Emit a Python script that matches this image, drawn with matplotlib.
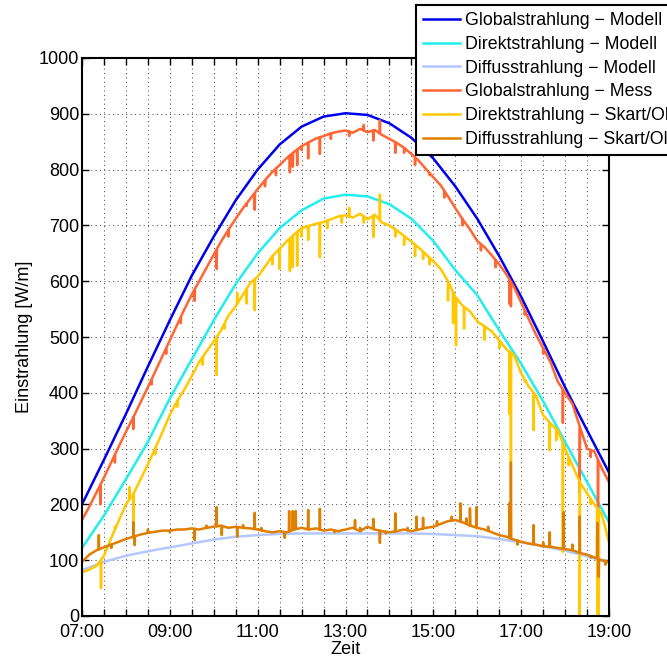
import numpy as np
import matplotlib
matplotlib.use("Agg")
import matplotlib.pyplot as plt
from matplotlib.ticker import MultipleLocator, FuncFormatter

plt.rcParams['font.family'] = ['Liberation Sans', 'DejaVu Sans']

# ---------------- data ----------------
# model curves, every 30 min from 07:00 to 19:00
model_start, model_step = 7.0, 0.5
global_model = [200, 280, 362, 447, 530, 610, 680, 745, 800, 845, 877, 895, 901,
                898, 883, 857, 820, 770, 712, 645, 572, 492, 410, 333, 257]
direct_model = [122, 180, 245, 312, 390, 460, 530, 595, 650, 695, 727, 748, 755,
                752, 738, 712, 672, 620, 575, 512, 452, 385, 312, 240, 168]
diffuse_model = [82, 97, 108, 116, 123, 130, 137, 142, 145, 147, 148, 148, 148,
                 148, 148, 148, 147, 145, 143, 138, 132, 125, 117, 107, 95]

# measured / Skartveit-Olseth curves, every 10 min from 07:00 to 19:00
meas_start, meas_step = 7.0, 1.0 / 6.0
global_meas = [172, 196, 222, 248, 276, 303, 330, 356, 383, 410, 438, 466,
               494, 522, 550, 576, 600, 624, 648, 671, 692, 712, 731, 748,
               765, 781, 796, 808, 821, 832, 842, 849, 856, 860, 865, 868,
               870, 866, 873, 867, 871, 862, 855, 848, 839, 828, 816, 801,
               786, 772, 752, 731, 711, 693, 672, 661, 646, 630, 612, 590,
               562, 533, 505, 480, 455, 420, 400, 380, 340, 300, 295, 265, 240]
direct_meas = [78, 83, 90, 108, 140, 170, 200, 218, 245, 272, 300, 330,
               360, 385, 406, 430, 455, 474, 492, 512, 538, 555, 576, 597,
               608, 626, 645, 658, 672, 684, 695, 699, 703, 706, 711, 716,
               718, 714, 721, 711, 719, 705, 700, 691, 681, 671, 660, 648,
               636, 622, 600, 572, 556, 546, 528, 519, 510, 494, 478, 468,
               435, 412, 395, 360, 345, 333, 300, 270, 240, 220, 200, 183, 132]
diffuse_meas = [97, 110, 118, 123, 128, 133, 138, 142, 146, 149, 151, 153,
                153, 155, 155, 157, 155, 158, 160, 162, 158, 160, 158, 157,
                155, 152, 150, 152, 150, 155, 158, 155, 157, 153, 155, 152,
                155, 158, 152, 160, 155, 152, 150, 152, 155, 152, 155, 158,
                160, 165, 170, 172, 168, 162, 158, 155, 150, 145, 142, 137,
                133, 130, 128, 125, 124, 122, 120, 118, 113, 110, 105, 100, 97]

# short spikes in the measured curves: (time, value)
global_spikes = [("07:25", 200), ("07:45", 275), ("08:10", 335), ("08:35", 415),
                 ("08:55", 470), ("09:15", 525), ("09:34", 565), ("10:04", 622),
                 ("10:20", 680), ("10:45", 735), ("10:56", 728), ("11:10", 770),
                 ("11:25", 790), ("11:44", 795), ("11:48", 805), ("11:54", 808),
                 ("12:00", 835), ("12:09", 820), ("12:25", 828), ("12:40", 855),
                 ("13:05", 860), ("13:25", 880), ("13:38", 852), ("13:47", 888),
                 ("14:08", 830), ("14:20", 830), ("14:35", 808), ("14:55", 790),
                 ("15:15", 750), ("15:40", 700), ("16:05", 655), ("16:25", 625),
                 ("16:44", 560), ("16:46", 555), ("17:05", 540), ("17:30", 470),
                 ("17:57", 346), ("18:20", 220), ("18:35", 285), ("18:45", 178)]
direct_spikes = [("07:26", 50), ("07:45", 160), ("08:05", 231), ("08:10", 167),
                 ("08:40", 290), ("09:10", 375), ("09:45", 450), ("10:04", 432),
                 ("10:15", 515), ("10:32", 579), ("10:45", 560), ("10:56", 548),
                 ("11:20", 630), ("11:30", 622), ("11:44", 618), ("11:48", 625),
                 ("11:54", 628), ("12:00", 680), ("12:09", 674), ("12:25", 643),
                 ("12:35", 695), ("12:55", 705), ("13:05", 732), ("13:25", 705),
                 ("13:38", 679), ("13:47", 755), ("14:08", 680), ("14:20", 665),
                 ("14:35", 645), ("14:46", 640), ("14:55", 630), ("15:20", 565),
                 ("15:27", 525), ("15:31", 485), ("15:42", 515), ("16:10", 495),
                 ("16:30", 480), ("16:44", 362), ("16:46", 275), ("17:05", 420),
                 ("17:17", 333), ("17:39", 297), ("17:48", 315), ("17:57", 115),
                 ("18:05", 270), ("18:20", 0), ("18:35", 200), ("18:44", 0),
                 ("18:46", 0)]
diffuse_spikes = [("07:23", 145), ("07:40", 122), ("08:10", 168), ("08:12", 127),
                  ("08:30", 155), ("09:00", 150), ("09:34", 136), ("09:50", 162),
                  ("10:04", 195), ("10:11", 145), ("10:32", 142), ("10:40", 163),
                  ("10:56", 185), ("11:05", 158), ("11:37", 140), ("11:43", 188),
                  ("11:48", 188), ("11:52", 188), ("12:09", 190), ("12:25", 192),
                  ("12:45", 150), ("13:13", 172), ("13:20", 158), ("13:38", 174),
                  ("13:47", 131), ("13:55", 148), ("14:08", 184), ("14:25", 158),
                  ("14:37", 178), ("14:46", 176), ("15:05", 170), ("15:25", 178),
                  ("15:37", 202), ("15:45", 175), ("15:50", 193), ("15:59", 195),
                  ("16:15", 160), ("16:44", 202), ("16:46", 275), ("16:55", 128),
                  ("17:17", 163), ("17:30", 132), ("17:39", 150), ("17:58", 186),
                  ("18:10", 128), ("18:20", 178), ("18:35", 105), ("18:44", 167),
                  ("18:46", 70), ("18:55", 92)]

labels = ["Globalstrahlung \u2212 Modell", "Direktstrahlung \u2212 Modell",
          "Diffusstrahlung \u2212 Modell", "Globalstrahlung \u2212 Mess",
          "Direktstrahlung \u2212 Skart/Olseth", "Diffusstrahlung \u2212 Skart/Olseth"]
colors = ["#0000EE", "#22EEEE", "#B4C8FF", "#FF6633", "#FFC800", "#E07E00"]

x_ticks_labels = ["07:00", "09:00", "11:00", "13:00", "15:00", "17:00", "19:00"]


# ---------------- helpers ----------------
def hours(s):
    h, m = s.split(":")
    return int(h) + int(m) / 60.0


def regular_times(start, step, n):
    return start + step * np.arange(n)


def with_spikes(t, v, spikes, w=0.4 / 60):
    t0 = np.asarray(t, float)
    v0 = np.asarray(v, float)
    tt = list(t0)
    vv = list(v0)
    for ts, val in spikes:
        tc = hours(ts)
        tt += [tc - w, tc, tc + w]
        vv += [np.interp(tc - w, t0, v0), val, np.interp(tc + w, t0, v0)]
    order = np.argsort(tt, kind="stable")
    return np.asarray(tt)[order], np.asarray(vv)[order]


# ---------------- figure ----------------
fig = plt.figure(figsize=(6.67, 6.58), dpi=100)
ax = fig.add_axes([82 / 667, 1 - 616 / 658, 527 / 667, 558 / 658])

tm = regular_times(model_start, model_step, len(global_model))
tmeas = regular_times(meas_start, meas_step, len(global_meas))

lines = []
for vals, c in zip([global_model, direct_model, diffuse_model], colors[:3]):
    l, = ax.plot(tm, vals, color=c, lw=1.8)
    lines.append(l)
for vals, sp, c in zip([global_meas, direct_meas, diffuse_meas],
                       [global_spikes, direct_spikes, diffuse_spikes], colors[3:]):
    tt, vv = with_spikes(tmeas, vals, sp)
    l, = ax.plot(tt, vv, color=c, lw=1.8)
    lines.append(l)

ax.set_xlim(7, 19)
ax.set_ylim(0, 1000)
ax.xaxis.set_major_locator(MultipleLocator(0.5))
ax.yaxis.set_major_locator(MultipleLocator(100))


def fmt_x(x, pos):
    lab = "%02d:00" % int(round(x))
    if abs(x - round(x)) < 1e-6 and lab in x_ticks_labels:
        return lab
    return ""


ax.xaxis.set_major_formatter(FuncFormatter(fmt_x))
ax.tick_params(direction="in", length=5, width=1.0, top=True, right=True,
               labelsize=13, pad=2, colors="black")
ax.tick_params(axis="x", pad=6)
ax.grid(True, which="major", linestyle=(0, (1, 3.5)), color="#404040", lw=0.7)
for s in ax.spines.values():
    s.set_linewidth(1.5)

ax.set_xlabel("Zeit", fontsize=13, labelpad=0)
ax.set_ylabel("Einstrahlung [W/m]", fontsize=13, labelpad=4)

leg = fig.legend(lines, labels, loc="upper left",
                 bbox_to_anchor=(416 / 667, 1 - 5 / 658),
                 fontsize=12.8, frameon=True, fancybox=False, framealpha=1,
                 edgecolor="black", handlelength=2.1, handletextpad=0.25,
                 labelspacing=0.38, borderpad=0.4, borderaxespad=0)
leg.get_frame().set_linewidth(1.5)

fig.savefig("out.png", dpi=100)
